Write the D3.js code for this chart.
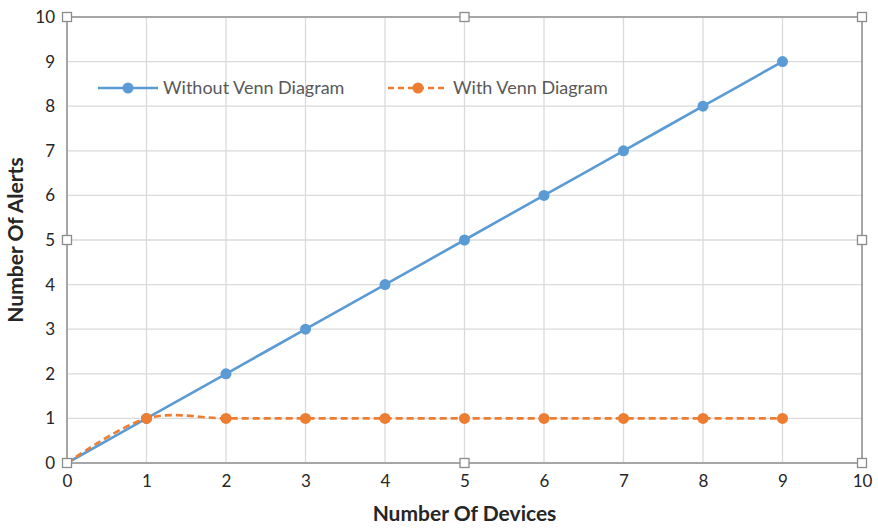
<!DOCTYPE html>
<html>
<head>
<meta charset="utf-8">
<script src="https://cdn.jsdelivr.net/npm/d3@7"></script>
<style>
  html, body { margin: 0; padding: 0; background: #fff; }
  svg { display: block; }
</style>
</head>
<body>
<svg id="chart" width="878" height="528"></svg>
<script>
// Data
const devices = [0, 1, 2, 3, 4, 5, 6, 7, 8, 9];
const withoutVenn = [0, 1, 2, 3, 4, 5, 6, 7, 8, 9];
const withVenn = [0, 1, 1, 1, 1, 1, 1, 1, 1, 1];
const xTicks = [0, 1, 2, 3, 4, 5, 6, 7, 8, 9, 10];
const yTicks = [0, 1, 2, 3, 4, 5, 6, 7, 8, 9, 10];
const seriesNames = ["Without Venn Diagram", "With Venn Diagram"];

const blue = "#5b9bd5";
const orange = "#ed7d31";
const font = "Lato, 'Open Sans', sans-serif";

const svg = d3.select("#chart");
const plotLeft = 67, plotRight = 862, plotTop = 17, plotBottom = 463;

const x = d3.scaleLinear().domain([0, 10]).range([plotLeft, plotRight]);
const y = d3.scaleLinear().domain([0, 10]).range([plotBottom, plotTop]);

// Gridlines
svg.append("g").selectAll("line").data(xTicks).join("line")
  .attr("x1", d => x(d)).attr("x2", d => x(d))
  .attr("y1", plotTop).attr("y2", plotBottom)
  .attr("stroke", "#dadada").attr("stroke-width", 1.3);
svg.append("g").selectAll("line").data(yTicks).join("line")
  .attr("x1", plotLeft).attr("x2", plotRight)
  .attr("y1", d => y(d)).attr("y2", d => y(d))
  .attr("stroke", "#dadada").attr("stroke-width", 1.3);

// Frame
svg.append("rect")
  .attr("x", plotLeft).attr("y", plotTop)
  .attr("width", plotRight - plotLeft).attr("height", plotBottom - plotTop)
  .attr("fill", "none").attr("stroke", "#a6a6a6").attr("stroke-width", 2);

// Axes (labels only)
const xAxis = svg.append("g").attr("transform", `translate(0,${plotBottom})`)
  .call(d3.axisBottom(x).tickValues(xTicks).tickSize(0).tickPadding(12).tickFormat(d3.format("d")));
xAxis.select(".domain").remove();
xAxis.selectAll("text").attr("font-family", font).attr("font-size", 17).attr("fill", "#262626");

const yAxis = svg.append("g").attr("transform", `translate(${plotLeft},0)`)
  .call(d3.axisLeft(y).tickValues(yTicks).tickSize(0).tickPadding(12).tickFormat(d3.format("d")));
yAxis.select(".domain").remove();
yAxis.selectAll("text").attr("font-family", font).attr("font-size", 17).attr("fill", "#262626");

// Axis titles
svg.append("text")
  .attr("x", (plotLeft + plotRight) / 2).attr("y", 521)
  .attr("text-anchor", "middle")
  .attr("font-family", font).attr("font-size", 21).attr("font-weight", "bold").attr("fill", "#262626")
  .text("Number Of Devices");
svg.append("text")
  .attr("transform", `translate(23,${(plotTop + plotBottom) / 2}) rotate(-90)`)
  .attr("text-anchor", "middle")
  .attr("font-family", font).attr("font-size", 21).attr("font-weight", "bold").attr("fill", "#262626")
  .text("Number Of Alerts");

// Series lines
const line = d3.line()
  .x((d, i) => x(devices[i]))
  .y(d => y(d))
  .curve(d3.curveCatmullRom.alpha(0));

svg.append("path").datum(withoutVenn)
  .attr("d", line)
  .attr("fill", "none").attr("stroke", blue).attr("stroke-width", 2.6);
svg.append("path").datum(withVenn)
  .attr("d", line)
  .attr("fill", "none").attr("stroke", orange).attr("stroke-width", 2.6)
  .attr("stroke-dasharray", "7,4");

// Markers
svg.append("g").selectAll("circle").data(withoutVenn.slice(1)).join("circle")
  .attr("cx", (d, i) => x(devices[i + 1])).attr("cy", d => y(d))
  .attr("r", 5.5).attr("fill", blue);
svg.append("g").selectAll("circle").data(withVenn.slice(1)).join("circle")
  .attr("cx", (d, i) => x(devices[i + 1])).attr("cy", d => y(d))
  .attr("r", 5.5).attr("fill", orange);

// Legend
const legend = [
  { name: seriesNames[0], color: blue, dash: null, x0: 98 },
  { name: seriesNames[1], color: orange, dash: "6,4", x0: 388 }
];
const ly = 88;
legend.forEach(l => {
  svg.append("line")
    .attr("x1", l.x0).attr("x2", l.x0 + 60).attr("y1", ly).attr("y2", ly)
    .attr("stroke", l.color).attr("stroke-width", 2.6)
    .attr("stroke-dasharray", l.dash);
  svg.append("circle").attr("cx", l.x0 + 30).attr("cy", ly).attr("r", 5.5).attr("fill", l.color);
  svg.append("text")
    .attr("x", l.x0 + 65).attr("y", ly + 6)
    .attr("font-family", font).attr("font-size", 18).attr("fill", "#595959")
    .text(l.name);
});

// Selection handles on the plot frame
const handles = [
  [plotLeft, plotTop], [(plotLeft + plotRight) / 2, plotTop], [plotRight, plotTop],
  [plotLeft, (plotTop + plotBottom) / 2], [plotRight, (plotTop + plotBottom) / 2],
  [plotLeft, plotBottom], [(plotLeft + plotRight) / 2, plotBottom], [plotRight, plotBottom]
];
svg.append("g").selectAll("rect").data(handles).join("rect")
  .attr("x", d => d[0] - 4.5).attr("y", d => d[1] - 4.5)
  .attr("width", 9).attr("height", 9)
  .attr("fill", "#fff").attr("stroke", "#8c8c8c").attr("stroke-width", 1.3);
</script>
</body>
</html>
